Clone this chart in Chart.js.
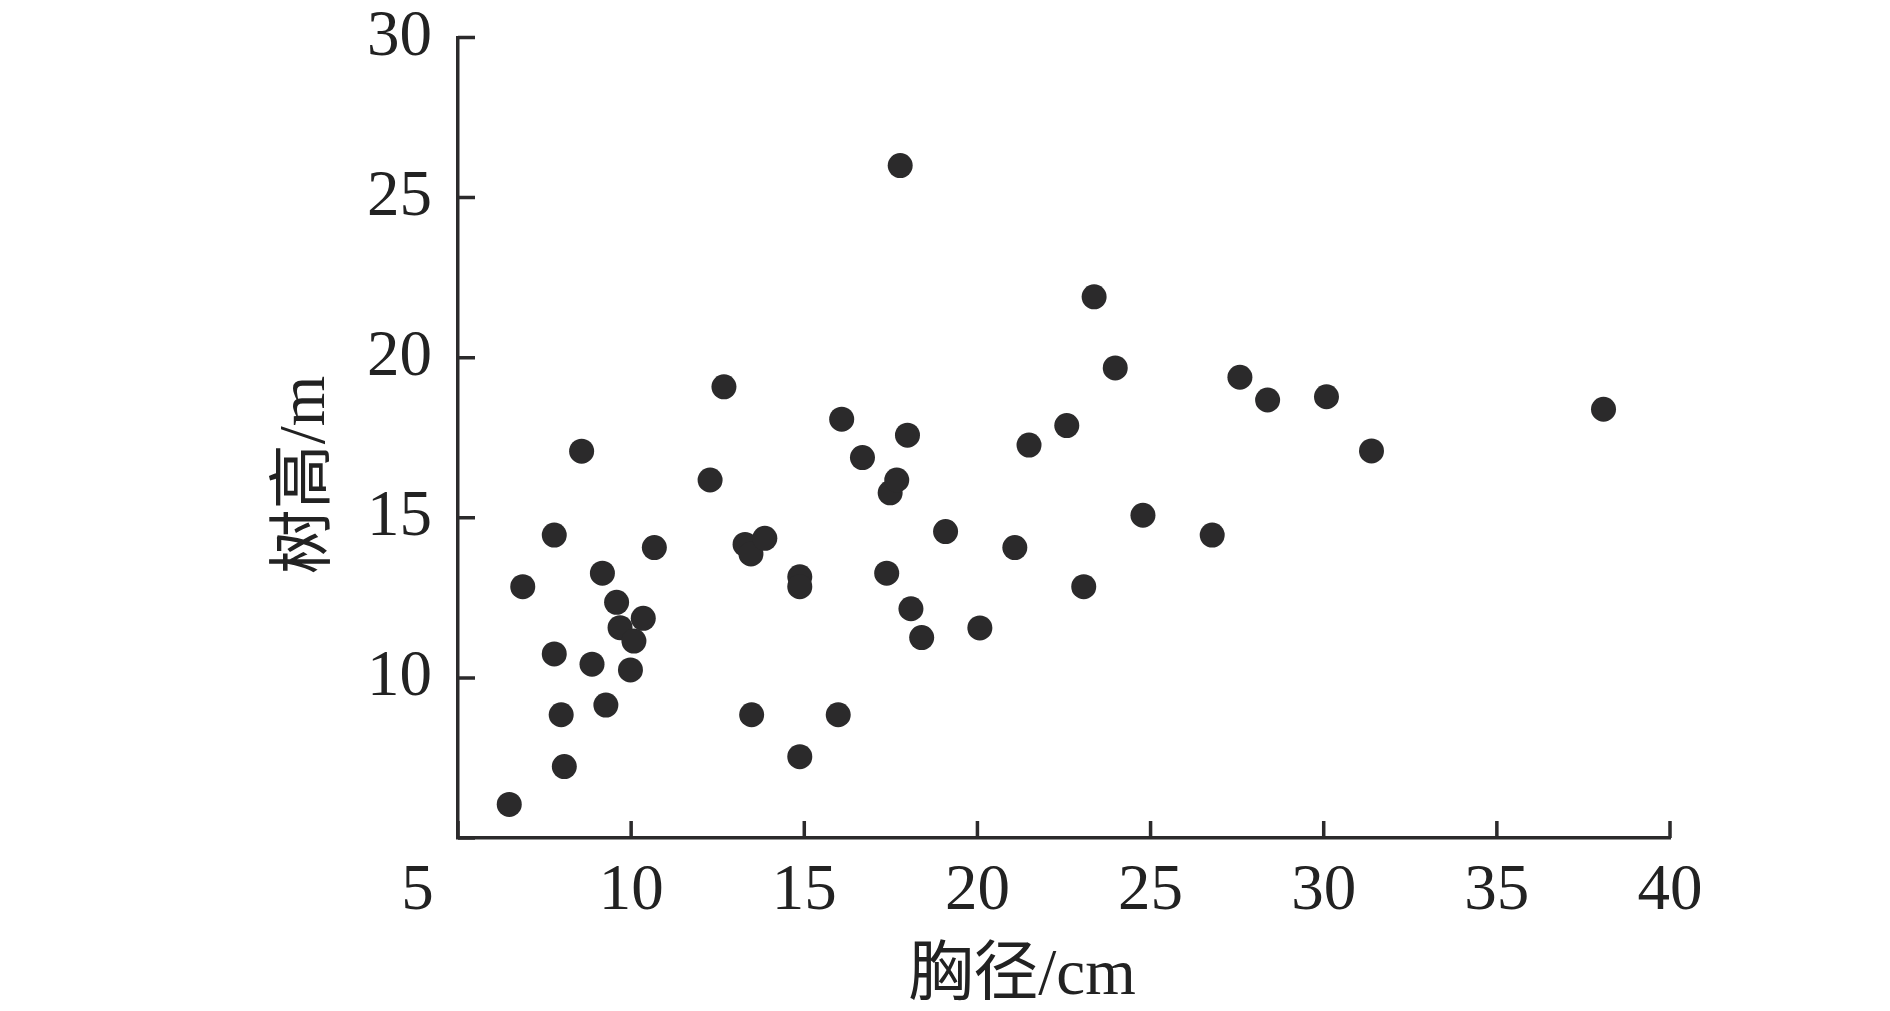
<!DOCTYPE html>
<html>
<head>
<meta charset="utf-8">
<script src="https://cdn.jsdelivr.net/npm/chart.js@4/dist/chart.umd.min.js"></script>
<style>
  html, body { margin: 0; padding: 0; background: #fff; }
  #wrap { width: 1890px; height: 1011px; }
</style>
</head>
<body>
<div id="wrap"><canvas id="chart-component" width="1890" height="1011"></canvas></div>
<script>
// diameter at breast height (cm) and tree height (m)
const dbh = [6.48, 6.87, 7.78, 7.78, 7.98, 8.07, 8.57, 8.87, 9.17, 9.27,
  9.58, 9.68, 9.98, 10.08, 10.35, 10.67, 12.28, 12.68, 13.29, 13.46,
  13.48, 13.86, 14.87, 14.87, 14.87, 15.98, 16.08, 16.68, 17.38, 17.48,
  17.67, 17.77, 17.98, 18.08, 18.39, 19.08, 20.07, 21.08, 21.49, 22.58,
  23.07, 23.37, 23.98, 24.78, 26.78, 27.58, 28.38, 30.08, 31.38, 38.08];
const height = [6.05, 12.85, 14.46, 10.75, 8.85, 7.23, 17.08, 10.43, 13.27, 9.15,
  12.36, 11.57, 10.25, 11.15, 11.86, 14.07, 16.18, 19.09, 14.17, 13.87,
  8.85, 14.36, 13.16, 12.85, 7.54, 8.85, 18.08, 16.88, 13.27, 15.78,
  16.18, 26.0, 17.58, 12.16, 11.26, 14.57, 11.56, 14.07, 17.27, 17.88,
  12.85, 21.9, 19.68, 15.08, 14.46, 19.39, 18.68, 18.78, 17.09, 18.39];

const xTicks = [5, 10, 15, 20, 25, 30, 35, 40];
const yTicks = [5, 10, 15, 20, 25, 30];
const xTitle = '胸径/cm';
const yTitle = '树高/m';

const ink = '#2b2a2b';
const serif = '"Liberation Serif", "Times New Roman", serif';

// short ticks pointing into the plot, plus the two axis titles
const axisDecor = {
  id: 'axisDecor',
  afterDraw(chart) {
    const ctx = chart.ctx;
    const xs = chart.scales.x, ys = chart.scales.y;
    const area = chart.chartArea;
    ctx.save();
    ctx.strokeStyle = ink;
    ctx.lineWidth = 3.5;
    ctx.beginPath();
    xTicks.forEach(v => {
      const px = xs.getPixelForValue(v);
      ctx.moveTo(px, area.bottom);
      ctx.lineTo(px, area.bottom - 17);
    });
    yTicks.forEach(v => {
      const py = ys.getPixelForValue(v);
      ctx.moveTo(area.left, py);
      ctx.lineTo(area.left + 17, py);
    });
    ctx.stroke();

    ctx.fillStyle = '#222';
    ctx.font = '65px ' + serif + ', "Noto Sans CJK SC"';
    ctx.textAlign = 'center';
    ctx.textBaseline = 'middle';
    ctx.fillText(xTitle, 1022, 977);
    ctx.translate(307, 475);
    ctx.rotate(-Math.PI / 2);
    ctx.fillText(yTitle, 0, 0);
    ctx.restore();
  }
};

new Chart(document.getElementById('chart-component').getContext('2d'), {
  type: 'scatter',
  data: {
    datasets: [{
      data: dbh.map((d, i) => ({ x: d, y: height[i] })),
      backgroundColor: ink,
      borderWidth: 0,
      pointRadius: 12.5,
      pointHoverRadius: 12.5
    }]
  },
  options: {
    responsive: false,
    animation: false,
    events: [],
    layout: { padding: { top: 37.5, right: 220, left: 0, bottom: 0 } },
    plugins: { legend: { display: false }, tooltip: { enabled: false } },
    scales: {
      x: {
        type: 'linear',
        min: 5, max: 40,
        afterBuildTicks: s => { s.ticks = xTicks.map(v => ({ value: v })); },
        afterFit: s => { s.height = 173; s.paddingLeft = 0; s.paddingRight = 0; },
        grid: { display: false, drawTicks: false },
        border: { display: true, color: ink, width: 3.5 },
        ticks: {
          padding: 21,
          color: '#222',
          maxRotation: 0,
          autoSkip: false,
          font: { family: serif, size: 65, lineHeight: 1 },
          callback: v => v === 5 ? '5     ' : String(v)
        }
      },
      y: {
        type: 'linear',
        min: 5, max: 30,
        afterBuildTicks: s => { s.ticks = yTicks.map(v => ({ value: v })); },
        afterFit: s => { s.width = 458; s.paddingTop = 0; s.paddingBottom = 0; },
        grid: { display: false, drawTicks: false },
        border: { display: true, color: ink, width: 3.5 },
        ticks: {
          padding: 26,
          color: '#222',
          autoSkip: false,
          font: { family: serif, size: 65, lineHeight: 1 },
          callback: v => v === 5 ? '' : String(v)
        }
      }
    }
  },
  plugins: [axisDecor]
});
</script>
</body>
</html>
